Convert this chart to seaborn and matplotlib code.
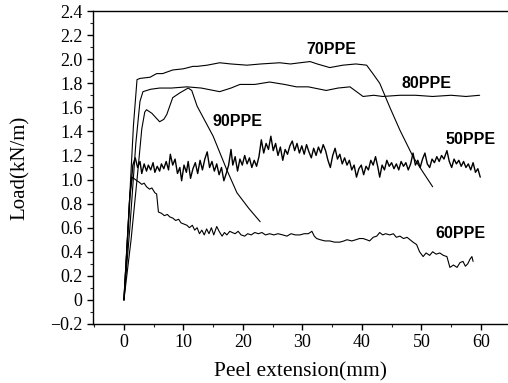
import numpy as np
import pandas as pd
import seaborn as sns
import matplotlib
matplotlib.use("Agg")
import matplotlib.pyplot as plt
from matplotlib.ticker import MultipleLocator

# ---- data ----
x70 = [0, 0.8, 1.6, 2.2, 2.7, 4.4, 5.5, 6.5, 8.2, 10, 11.6, 12.3, 14, 16.1, 18, 20.7, 23, 26.2, 28, 29.6,
       31.3, 32.5, 34.6, 36.8, 39, 40.8, 41.7, 43, 44.7, 46.4, 48.6, 50.3, 51.9]
y70 = [0, 0.7, 1.45, 1.83, 1.84, 1.85, 1.88, 1.88, 1.91, 1.92, 1.94, 1.94, 1.95, 1.97, 1.96, 1.95, 1.96, 1.97, 1.96, 1.97,
       1.98, 1.96, 1.93, 1.95, 1.96, 1.95, 1.89, 1.80, 1.60, 1.41, 1.19, 1.06, 0.94]

x80 = [0, 1.0, 2.0, 2.7, 3.2, 4.5, 6, 8, 10.6, 13, 16.1, 18, 19.5, 22, 24.5, 27, 29, 31, 34, 36, 38, 40.2,
       42, 43.5, 46.4, 49, 51.9, 55, 57.5, 59.8]
y80 = [0, 0.6, 1.3, 1.65, 1.73, 1.75, 1.76, 1.76, 1.77, 1.76, 1.73, 1.76, 1.79, 1.79, 1.81, 1.79, 1.77, 1.77, 1.74, 1.76, 1.77, 1.69,
       1.70, 1.69, 1.70, 1.70, 1.69, 1.70, 1.69, 1.70]

x90 = [0, 1.2, 2.3, 3.0, 3.5, 3.8, 4.7, 6, 6.7, 7.2, 8.2, 9.4, 10.8, 11.4, 12.3, 15, 17.3, 19, 21, 22.9]
y90 = [0, 0.5, 1.05, 1.42, 1.56, 1.58, 1.55, 1.48, 1.50, 1.54, 1.68, 1.72, 1.76, 1.74, 1.61, 1.36, 1.08, 0.89, 0.76, 0.65]

x50 = [0, 0.5, 1.0, 1.5, 1.9, 2.3, 2.7, 3.0, 3.4, 3.8, 4.1, 4.5, 4.9, 5.2, 5.6, 6.0, 6.3, 6.7, 7.1, 7.5,
       7.8, 8.2, 8.6, 9.0, 9.4, 9.7, 10.1, 10.5, 10.8, 11.2, 11.6, 12.0, 12.4, 12.8, 13.2, 13.6, 14.0, 14.4, 14.8, 15.2,
       15.6, 16.0, 16.4, 16.8, 17.2, 17.6, 18.0, 18.3, 18.7, 19.1, 19.5, 19.9, 20.3, 20.7, 21.1, 21.5, 21.9, 22.3, 22.7, 23.1,
       23.5, 23.9, 24.3, 24.7, 25.1, 25.5, 25.9, 26.3, 26.7, 27.1, 27.5, 27.9, 28.3, 28.7, 29.1, 29.5, 29.9, 30.3, 30.7, 31.1,
       31.5, 31.9, 32.3, 32.7, 33.1, 33.5, 33.9, 34.3, 34.7, 35.1, 35.5, 35.9, 36.3, 36.7, 37.1, 37.5, 37.9, 38.3, 38.7, 39.1,
       39.5, 39.9, 40.3, 40.7, 41.1, 41.5, 41.9, 42.3, 42.7, 43.0, 43.4, 43.8, 44.2, 44.6, 45.0, 45.4, 45.8, 46.2, 46.6, 47.0,
       47.4, 47.8, 48.2, 48.6, 49.0, 49.4, 49.8, 50.2, 50.6, 51.0, 51.4, 51.8, 52.2, 52.6, 53.0, 53.4, 53.8, 54.3, 54.7, 55.1,
       55.5, 55.9, 56.3, 56.7, 57.1, 57.5, 57.9, 58.3, 58.7, 59.1, 59.5, 59.9]
y50 = [0, 0.4, 0.85, 1.12, 1.18, 1.10, 1.15, 1.05, 1.13, 1.07, 1.12, 1.08, 1.14, 1.06, 1.11, 1.07, 1.13, 1.09, 1.15, 1.08,
       1.21, 1.12, 1.17, 1.05, 1.10, 0.99, 1.12, 1.06, 1.15, 1.01, 1.09, 1.14, 1.05, 1.16, 1.08, 1.17, 1.23, 1.10, 1.15, 1.07,
       1.13, 1.04, 1.10, 0.99, 1.05, 1.12, 1.25, 1.12, 1.19, 1.07, 1.17, 1.12, 1.20, 1.13, 1.18, 1.10, 1.16, 1.11, 1.19, 1.33,
       1.22, 1.30, 1.25, 1.36, 1.24, 1.30, 1.20, 1.27, 1.16, 1.25, 1.21, 1.28, 1.32, 1.24, 1.30, 1.22, 1.28, 1.21, 1.29, 1.23,
       1.18, 1.26, 1.20, 1.27, 1.22, 1.29, 1.24, 1.16, 1.10, 1.20, 1.26, 1.17, 1.21, 1.13, 1.18, 1.12, 1.16, 1.08, 1.12, 1.02,
       1.09, 1.12, 1.04, 1.11, 1.08, 1.16, 1.12, 1.19, 1.10, 1.02, 1.12, 1.08, 1.16, 1.11, 1.14, 1.09, 1.13, 1.08, 1.15, 1.11,
       1.14, 1.08, 1.13, 1.22, 1.12, 1.16, 1.10, 1.17, 1.22, 1.13, 1.10, 1.17, 1.14, 1.19, 1.15, 1.20, 1.17, 1.24, 1.15, 1.10,
       1.17, 1.13, 1.16, 1.11, 1.15, 1.10, 1.13, 1.08, 1.14, 1.06, 1.09, 1.02]

x60 = [0, 0.5, 1.0, 1.4, 1.9, 2.5, 3.0, 3.4, 3.8, 4.3, 4.7, 5.2, 5.5, 5.8, 6.3, 6.8, 7.3, 7.7, 8.2, 8.7,
       9.2, 9.6, 10.1, 10.6, 11.0, 11.5, 11.9, 12.3, 12.7, 13.1, 13.5, 13.9, 14.3, 14.7, 15.1, 15.6, 16.0, 16.5, 16.9, 17.3,
       17.8, 18.2, 18.7, 19.2, 19.7, 20.3, 20.8, 21.4, 22.0, 22.6, 23.2, 23.8, 24.5, 25.2, 25.9, 26.7, 27.4, 28.1, 28.8, 29.6,
       30.3, 31.0, 31.6, 32.0, 32.4, 33.0, 33.8, 34.6, 35.4, 36.3, 37.0, 37.5, 38.3, 39.0, 39.6, 40.2, 40.8, 41.3, 41.9, 42.5,
       43.0, 43.5, 44.0, 44.7, 45.3, 45.8, 46.4, 47.0, 47.6, 48.1, 48.6, 49.2, 49.7, 50.3, 50.8, 51.4, 51.9, 52.5, 53.1, 53.7,
       54.3, 54.8, 55.4, 56.0, 56.5, 57.0, 57.4, 57.8, 58.2, 58.5, 58.7]
y60 = [0, 0.45, 0.88, 1.02, 1.00, 0.98, 0.96, 0.97, 0.94, 0.92, 0.93, 0.89, 0.88, 0.73, 0.72, 0.70, 0.71, 0.69, 0.68, 0.66,
       0.67, 0.64, 0.63, 0.62, 0.60, 0.62, 0.58, 0.60, 0.55, 0.58, 0.54, 0.59, 0.55, 0.60, 0.54, 0.61, 0.57, 0.53, 0.56, 0.54,
       0.57, 0.56, 0.55, 0.57, 0.54, 0.53, 0.55, 0.54, 0.56, 0.55, 0.56, 0.54, 0.55, 0.54, 0.55, 0.54, 0.53, 0.55, 0.54, 0.54,
       0.55, 0.55, 0.57, 0.53, 0.51, 0.50, 0.49, 0.49, 0.48, 0.48, 0.49, 0.50, 0.49, 0.50, 0.51, 0.51, 0.50, 0.49, 0.52, 0.53,
       0.56, 0.54, 0.55, 0.54, 0.55, 0.52, 0.53, 0.51, 0.52, 0.50, 0.48, 0.46, 0.40, 0.36, 0.39, 0.37, 0.40, 0.38, 0.39, 0.37,
       0.36, 0.27, 0.29, 0.27, 0.31, 0.32, 0.28, 0.30, 0.34, 0.36, 0.32]

series_names = ["70PPE", "80PPE", "90PPE", "50PPE", "60PPE"]
label_x = [34.8, 50.8, 19.1, 58.2, 56.5]
label_y = [2.08, 1.80, 1.48, 1.33, 0.55]

xticks = [0, 10, 20, 30, 40, 50, 60]
yticks = [-0.2, 0, 0.2, 0.4, 0.6, 0.8, 1.0, 1.2, 1.4, 1.6, 1.8, 2.0, 2.2, 2.4]
ytick_labels = ["\u22120.2", "0", "0.2", "0.4", "0.6", "0.8", "1.0", "1.2", "1.4", "1.6", "1.8", "2.0", "2.2", "2.4"]

# ---- build frame ----
frames = []
for name, xs, ys in [("70PPE", x70, y70), ("80PPE", x80, y80), ("90PPE", x90, y90),
                     ("50PPE", x50, y50), ("60PPE", x60, y60)]:
    frames.append(pd.DataFrame({"ext": xs, "load": ys, "sample": name}))
df = pd.concat(frames, ignore_index=True)

sns.set_style("ticks")
plt.rcParams["font.family"] = ["Liberation Serif", "DejaVu Serif"]

fig = plt.figure(figsize=(5.08, 3.83), dpi=100)
ax = fig.add_axes([93 / 508, (383 - 324) / 383, (507 - 93) / 508, (324 - 11) / 383])

for name in series_names:
    sub = df[df["sample"] == name]
    lw = 1.0 if name == "50PPE" else 0.8
    sns.lineplot(data=sub, x="ext", y="load", ax=ax, color="black", linewidth=lw,
                 estimator=None, sort=False, legend=False)

for name, lx, ly in zip(series_names, label_x, label_y):
    ax.text(lx, ly, name, ha="center", va="center", fontsize=11.5, fontweight="bold",
            family=["Liberation Sans", "DejaVu Sans"], color="black")

ax.set_xlim(-5.2, 64.4)
ax.set_ylim(-0.2, 2.4)
ax.set_xticks(xticks)
ax.set_xticklabels([str(t) for t in xticks])
ax.set_yticks(yticks)
ax.set_yticklabels(ytick_labels)
ax.xaxis.set_minor_locator(MultipleLocator(5))
ax.yaxis.set_minor_locator(MultipleLocator(0.1))
ax.tick_params(axis="both", which="major", direction="out", length=4, width=1,
               labelsize=13, colors="black")
ax.tick_params(axis="both", which="minor", direction="out", length=2.5, width=0.8)
ax.set_xlabel("Peel extension(mm)", fontsize=15.5, color="black", labelpad=8)
ax.set_ylabel("Load(kN/m)", fontsize=15, color="black", labelpad=15)
for side in ["left", "bottom", "top"]:
    ax.spines[side].set_linewidth(1.0)
    ax.spines[side].set_color("black")
ax.spines["right"].set_visible(False)

fig.savefig("out.png", dpi=100)
